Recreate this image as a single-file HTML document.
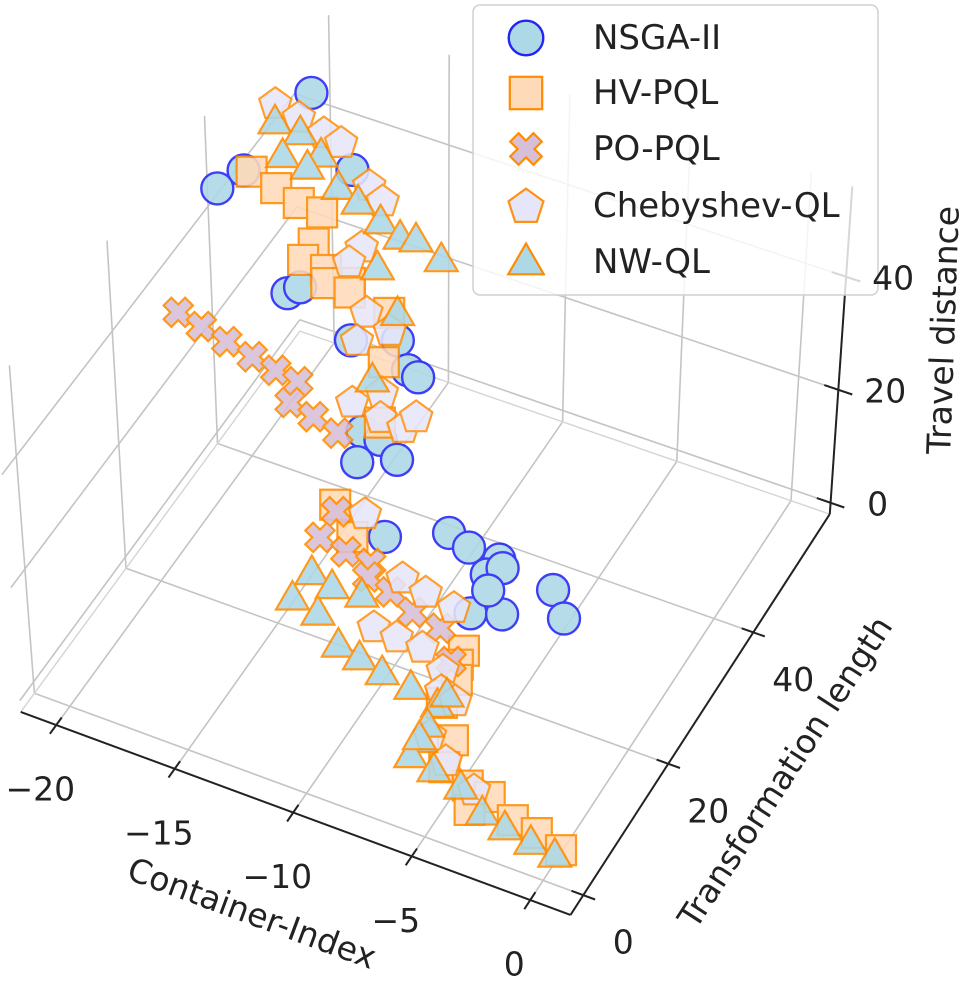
<!DOCTYPE html>
<html>
<head>
<meta charset="utf-8">
<style>
html,body{margin:0;padding:0;background:#fff;}
svg{display:block;}
text{font-family:"DejaVu Sans","Liberation Sans",sans-serif;fill:#222;}
</style>
</head>
<body>
<svg id="chart" width="968" height="982" viewBox="0 0 968 982" xmlns="http://www.w3.org/2000/svg">
  <g id="grid"></g>
  <g id="axes"></g>
  <g id="marks"></g>
  <g id="legend"></g>
  <g id="labels"></g>
</svg>
<script>
// ---- data (Container-Index, Transformation length, Travel distance) ----
const nsgaCI = [-21.8,-22.4,-22.9,-18.7,-18.2,-17.9,-15.0,-13.4,-12.4,-11.9,-12.6,-11.8,-12.1,-10.8,-12.2,-10.1,-9.1,-7.8,-7.9,-7.5,-7.6,-6.5,-5.3,-4.3,-7.5];
const nsgaTL = [63.3,50.7,47.3,55.7,37.6,38.9,34.7,36.8,33.6,33.2,24.0,23.8,20.0,22.1,30.0,33.4,32.5,32.4,30.0,31.5,24.5,25.8,31.1,28.1,28.1];
const nsgaTD = [30,30,30,30,30,30,30,30,30,30,30,30,30,30,5,5,5,5,5,5,5,5,5,5,5];

const hvCI = [-22.1,-20.9,-19.8,-18.8,-18.4,-18.4,-17.4,-16.3,-17.1,-16.1,-14.3,-13.4,-12.2,-14.6,-13.3,-7.0,-6.9,-6.6,-6.6,-5.4,-5.1,-3.9,-2.9,-1.6,-0.5,0.7,-3.3];
const hvTL = [50.9,50.0,49.2,49.1,44.9,42.4,42.2,41.7,40.6,40.5,39.8,33.5,25.9,31.7,28.5,19.6,17.6,15.7,12.2,8.1,4.4,3.2,2.8,1.0,0.5,-0.5,0.3];
const hvTD = [30,30,30,30,30,30,30,30,30,30,30,30,30,5,5,5,5,5,5,5,5,5,5,5,5,5,5];

const poCI = [-21.5,-20.4,-19.2,-18.0,-16.9,-15.9,-15.7,-14.6,-13.4,-14.4,-14.4,-13.2,-12.1,-11.9,-10.8,-9.6,-8.3,-7.2];
const poTL = [30.3,29.6,28.9,28.2,27.6,27.2,24.3,23.6,22.7,30.9,27.0,26.4,26.1,24.3,23.5,22.0,21.3,17.7];
const poTD = [30,30,30,30,30,30,30,30,30,5,5,5,5,5,5,5,5,5];

const chCI = [-22.8,-21.7,-20.5,-19.7,-17.8,-17.0,-16.7,-16.8,-15.1,-14.8,-12.8,-13.6,-12.3,-11.3,-11.1,-13.9,-13.4,-10.7,-9.6,-8.3,-10.6,-9.6,-8.5,-7.3,-6.9,-6.3,-3.6,-6.2,-5.2];
const chTL = [60.4,59.8,59.0,58.6,54.6,53.3,46.7,44.3,38.9,35.0,29.7,27.2,26.6,26.4,28.3,37.7,32.0,25.8,25.1,24.5,18.5,18.3,18.2,16.3,13.7,7.7,3.0,13.1,5.3];
const chTD = [30,30,30,30,30,30,30,30,30,30,30,30,30,30,30,30,5,5,5,5,5,5,5,5,5,5,5,5,5];

const nwCI = [-22.4,-21.3,-21.4,-20.1,-20.3,-18.8,-17.8,-16.6,-15.6,-15.0,-13.7,-15.7,-14.0,-13.4,-13.9,-14.0,-12.9,-11.7,-12.8,-11.4,-10.4,-9.3,-8.0,-6.7,-6.6,-6.5,-6.5,-5.4,-4.1,-2.8,-1.7,-0.5,0.6,-6.6,-6.6];
const nwTL = [58.1,57.9,54.3,56.1,54.0,52.9,52.0,50.6,49.6,50.0,48.7,44.8,40.1,30.8,22.3,18.3,21.5,21.8,17.6,14.6,14.0,13.2,12.7,11.7,8.8,6.6,4.3,3.6,2.7,0.5,-0.3,-0.9,-1.4,6.9,13.4];
const nwTD = [30,30,30,30,30,30,30,30,30,30,30,30,30,30,5,5,5,5,5,5,5,5,5,5,5,5,5,5,5,5,5,5,5,5,5];

const xTicks = [-20,-15,-10,-5,0];
const yTicks = [0,20,40];
const zTicks = [0,20,40];
const xTickLabels = ["\u221220","\u221215","\u221210","\u22125","0"];
const yTickLabels = ["0","20","40"];
const zTickLabels = ["0","20","40"];
const seriesNames = ["NSGA-II","HV-PQL","PO-PQL","Chebyshev-QL","NW-QL"];

// ---- projection ----
const X0=-21.5, X1=1.7, Y0=-3, Y1=58, Z0=-2, Z1=56;
function proj(x,y,z){ return [544+23.7*x+4.25*y+0.5*z, 869+8.75*x-6.57*y-5.65*z]; }
function gproj(x,y,z){
  const s=(X1-x)/23.2, t=(y-Y0)/61;
  const ezx=(-25+1.3*(x+21.5)+0.3*y)/58;
  const zz=z-Z0;
  return [544+23.7*x+4.25*y-1+s*t*20+ezx*zz, 880.3+8.75*x-6.57*y+s*t*20-5.65*zz];
}
const NS="http://www.w3.org/2000/svg";
function mk(tag, attrs, parent){
  const e=document.createElementNS(NS,tag);
  for(const k in attrs) e.setAttribute(k,attrs[k]);
  parent.appendChild(e); return e;
}
const grid=document.getElementById('grid');
const axes=document.getElementById('axes');
const marks=document.getElementById('marks');
const legend=document.getElementById('legend');
const labels=document.getElementById('labels');

function gline(p,q,name,parent,color,w){
  const l=mk('line',{x1:p[0].toFixed(1),y1:p[1].toFixed(1),x2:q[0].toFixed(1),y2:q[1].toFixed(1),stroke:color,'stroke-width':w},parent);
  
  
  return l;
}
const GC="#c4c4c4";
yTicks.forEach(v=>gline(gproj(X0,v,Z0),gproj(X1,v,Z0),'floor-gridline-y',grid,GC,1.6));
xTicks.forEach(v=>gline(gproj(v,Y0,Z0),gproj(v,Y1,Z0),'floor-gridline-x',grid,GC,1.6));
zTicks.forEach(v=>gline(gproj(X0,Y0,v),gproj(X0,Y1,v),'left-wall-gridline-z',grid,GC,1.6));
yTicks.forEach(v=>gline(gproj(X0,v,Z0),gproj(X0,v,Z1),'left-wall-gridline-y',grid,GC,1.6));
zTicks.forEach(v=>gline(gproj(X0,Y1,v),gproj(X1,Y1,v),'back-wall-gridline-z',grid,GC,1.6));
xTicks.forEach(v=>gline(gproj(v,Y1,Z0),gproj(v,Y1,Z1),'back-wall-gridline-x',grid,GC,1.6));
gline(gproj(X0,Y0,Z0),gproj(X0,Y1,Z0),'left-pane-edge',grid,"#d4d4d4",1.4);
gline(gproj(X0,Y1,Z0),gproj(X1,Y1,Z0),'back-pane-edge',grid,"#d4d4d4",1.4);

gline(gproj(X0,Y0,Z0),gproj(X1,Y0,Z0),'x-axis-line',axes,"#222",2);
gline(gproj(X1,Y0,Z0),gproj(X1,Y1,Z0),'y-axis-line',axes,"#222",2);
gline(gproj(X1,Y1,Z0),gproj(X1,Y1,Z1),'z-axis-line',axes,"#222",2);
xTicks.forEach(v=>gline(gproj(v,Y0-1.4,Z0),gproj(v,Y0+1.2,Z0),'x-tick',axes,"#222",2));
yTicks.forEach(v=>gline(gproj(X1-0.5,v,Z0),gproj(X1+0.5,v,Z0),'y-tick',axes,"#222",2));
zTicks.forEach(v=>gline(gproj(X1-0.6,Y1,v),gproj(X1+0.6,Y1,v),'z-tick',axes,"#222",2));

function tlabel(txt,x,y,name,size,rot){
  const t=mk('text',{x:x.toFixed(1),y:y.toFixed(1),'font-size':size,'text-anchor':'middle','dominant-baseline':'central'},labels);
  if(rot) t.setAttribute('transform','rotate('+rot+' '+x.toFixed(1)+' '+y.toFixed(1)+')');
  t.textContent=txt;
  
  
  return t;
}
xTicks.forEach((v,i)=>{const p=gproj(v,Y0,Z0); tlabel(xTickLabels[i],p[0]-16,p[1]+64,'x-tick-label',33);});
yTicks.forEach((v,i)=>{const p=gproj(X1,v,Z0); tlabel(yTickLabels[i],p[0]+40,p[1]+47,'y-tick-label',33);});
zTicks.forEach((v,i)=>{const p=gproj(X1,Y1,v); tlabel(zTickLabels[i],p[0]+47,p[1]+1,'z-tick-label',33);});
tlabel("Container-Index",252,913,'x-axis-title',33,20.3);
tlabel("Transformation length",785,772,'y-axis-title',33,-57);
tlabel("Travel distance",943,330,'z-axis-title',33,-88);

function shape(kind,cx,cy,parent,sc){
  sc=sc||1; let e;
  if(kind==='circle'){
    e=mk('circle',{cx:cx.toFixed(1),cy:cy.toFixed(1),r:16*sc,fill:'#add8e6',stroke:'#2424f5','stroke-width':2.4},parent);
  } else if(kind==='square'){
    const h=15*sc;
    e=mk('rect',{x:(cx-h).toFixed(1),y:(cy-h).toFixed(1),width:2*h,height:2*h,fill:'#ffdab9',stroke:'#ff8c00','stroke-width':2.2},parent);
  } else if(kind==='cross'){
    const w=5.8*sc, L=16*sc, pts=[];
    const plus=[[-w,-L],[w,-L],[w,-w],[L,-w],[L,w],[w,w],[w,L],[-w,L],[-w,w],[-L,w],[-L,-w],[-w,-w]];
    const c=Math.SQRT1_2;
    plus.forEach(p=>pts.push((cx+(p[0]-p[1])*c*0.95).toFixed(1)+','+(cy+(p[0]+p[1])*c*0.95).toFixed(1)));
    e=mk('polygon',{points:pts.join(' '),fill:'#d8bfd8',stroke:'#ff8c00','stroke-width':2.2,'stroke-linejoin':'miter'},parent);
  } else if(kind==='pentagon'){
    const r=17*sc, pts=[];
    for(let i=0;i<5;i++){const a=-Math.PI/2+i*2*Math.PI/5; pts.push((cx+r*Math.cos(a)).toFixed(1)+','+(cy+r*Math.sin(a)+1).toFixed(1));}
    e=mk('polygon',{points:pts.join(' '),fill:'#e6e6fa',stroke:'#ff9214','stroke-width':2.2},parent);
  } else {
    const r=19*sc;
    const pts=[[0,-r],[r*0.866,r*0.5],[-r*0.866,r*0.5]].map(p=>(cx+p[0]).toFixed(1)+','+(cy+p[1]+2).toFixed(1));
    e=mk('polygon',{points:pts.join(' '),fill:'#add8e6',stroke:'#ff8c00','stroke-width':2.2},parent);
  }
  return e;
}
function series(ci,tl,td,kind,name){
  const g=mk('g',{opacity:0.88},marks);
  
  
  for(let i=0;i<ci.length;i++){
    const p=proj(ci[i],tl[i],td[i]);
    const e=shape(kind,p[0],p[1],g);
    
    
  }
}
series(nsgaCI,nsgaTL,nsgaTD,'circle','nsga-ii-series');
series(hvCI,hvTL,hvTD,'square','hv-pql-series');
series(poCI,poTL,poTD,'cross','po-pql-series');
series(chCI,chTL,chTD,'pentagon','chebyshev-ql-series');
series(nwCI,nwTL,nwTD,'triangle','nw-ql-series');

const lb=mk('rect',{x:473,y:5,width:405,height:290,rx:7,ry:7,fill:'rgba(255,255,255,0.82)',stroke:'#d0d0d0','stroke-width':1.5},legend);


const kinds=['circle','square','cross','pentagon','triangle'];
const rowsY=[38,93,149,206,262];
seriesNames.forEach((nm,i)=>{
  const g=mk('g',{},legend);
  
  
  const m=shape(kinds[i],526,rowsY[i],g,1.08);
  
  
  const t=mk('text',{x:593,y:rowsY[i],'font-size':34,'dominant-baseline':'central'},g);
  t.textContent=nm;
  
  
});
</script>
</body>
</html>
